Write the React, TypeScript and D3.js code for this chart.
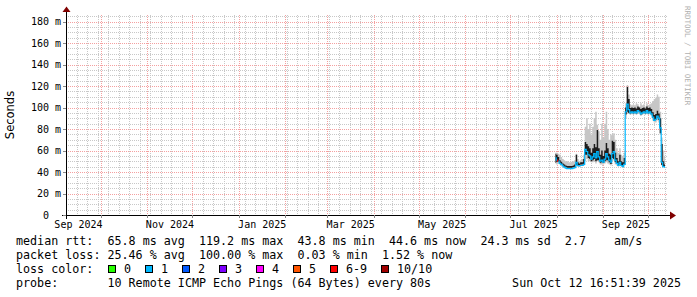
import React from 'react';
import * as d3 from 'd3';

const W = 697;
const H = 297;

// time window of the graph (400 days ending at the graph time)
const graphStart = Date.UTC(2024, 8, 7, 16, 51);
const graphEnd = Date.UTC(2025, 9, 12, 16, 51);
const firstSampleDay = Date.UTC(2025, 6, 31);

// y ticks
const yMajorTicks = [0, 20, 40, 60, 80, 100, 120, 140, 160, 180];

// daily samples, ms
const median = [54, 52, 51, 49, 48, 46.5, 45.5, 44.5, 44, 44, 44, 44, 44.5, 45, 50, 47, 46.5, 47, 47, 48,
  62, 60, 57, 56, 53, 55, 58, 54, 60, 55, 51, 52, 50, 53, 58, 55, 52, 50, 58, 60,
  52, 49, 47, 50, 47, 46, 48, 97, 104, 99, 96, 97, 96, 97, 96, 98, 97, 95, 96, 97,
  96, 98, 96, 97, 95, 92, 89, 90, 93, 91, 82, 50, 46, 45.5];
const smokeLo = [48, 47, 48, 47, 46, 45, 44, 43.5, 43, 43, 43, 43, 43.5, 44, 45, 45, 45, 45.5, 46, 46,
  50, 52, 50, 50, 49, 49, 50, 48, 50, 49, 47, 47, 47, 48, 49, 48, 47, 46, 50, 51,
  47, 46, 45, 46, 45, 44.5, 46, 90, 94, 94, 93, 94, 93, 94, 93, 94, 94, 92, 93, 94,
  93, 94, 93, 94, 92, 88, 86, 86, 88, 86, 75, 46, 45, 45];
const smokeHi = [58, 58, 57, 56, 54, 52, 51, 50, 50, 49, 49, 49.5, 50, 51, 57, 52, 50, 51, 52, 56,
  82, 90, 80, 85, 75, 82, 90, 96, 84, 78, 70, 85, 72, 85, 96, 80, 70, 75, 74, 76,
  70, 62, 58, 62, 56, 55, 58, 104, 121, 112, 103, 102, 103, 102, 104, 103, 101, 104, 102, 103,
  101, 104, 102, 103, 104, 106, 108, 109, 112, 110, 96, 72, 60, 55];
const coreLo = [48.5, 49.5, 49.5, 48.5, 47.5, 46, 45, 44.5, 44, 44, 44, 44, 44.5, 45, 46.5, 46.5, 46.5, 47, 47, 47.5,
  56, 56, 53, 52, 50, 51, 52, 50, 51, 51, 48.5, 49, 48.5, 50, 51, 51, 49, 47.5, 53, 52,
  49, 47.5, 46.5, 47.5, 46.5, 45.5, 46.5, 93.5, 96, 95, 94.5, 95.5, 94.5, 95.5, 94.5, 96.5, 95.5, 93.5, 94.5, 95.5,
  94.5, 96.5, 94.5, 95.5, 93.5, 90.5, 87.5, 88.5, 90.5, 88.5, 76, 46.5, 45.5, 45];
const coreHi = [57, 56, 54, 51, 49.5, 48, 47, 46, 45.5, 45.5, 45.5, 45.5, 46, 47, 56, 49, 48, 49, 49, 52,
  68, 66, 64, 62, 58, 62, 66, 63, 79, 62, 56, 60, 55, 60, 67, 62, 57, 56, 69, 68,
  58, 53, 50, 56, 50, 49, 53, 100, 119, 108, 99.5, 100, 99.5, 100, 99, 101, 100, 98.5, 99.5, 100,
  99, 101, 99.5, 100, 98.5, 95.5, 93, 94, 97, 94.5, 90, 66, 50, 47];
const lossCount = [1, 7, 1, 1, 1, 1, 1, 1, 1, 1, 1, 1, 1, 1, 1, 1, 1, 1, 1, 1,
  1, 1, 1, 1, 1, 1, 1, 1, 1, 1, 1, 1, 1, 1, 1, 1, 1, 1, 1, 1,
  1, 1, 1, 1, 1, 1, 1, 1, 1, 1, 1, 1, 1, 1, 1, 1, 1, 1, 1, 1,
  1, 1, 1, 1, 1, 1, 1, 1, 1, 1, 1, 1, 1, 1];

// legend
const lossLabels = ['0', '1', '2', '3', '4', '5', '6-9', '10/10'];
const lossColors = ['#26ff00', '#00b8ff', '#0059ff', '#7e00ff', '#ff00ff', '#ff5500', '#ff0000', '#a10000'];
const rttLine = 'median rtt:  65.8 ms avg  119.2 ms max  43.8 ms min  44.6 ms now  24.3 ms sd  2.7    am/s';
const lossLine = 'packet loss: 25.46 % avg  100.00 % max  0.03 % min  1.52 % now';
const probeLine = 'probe:       10 Remote ICMP Echo Pings (64 Bytes) every 80s';
const dateLine = 'Sun Oct 12 16:51:39 2025';

const MONO = "'DejaVu Sans Mono', monospace";
const SANS = "'DejaVu Sans', sans-serif";

function lossIndex(n: number) {
  if (n <= 5) return n;
  if (n < 10) return 6;
  return 7;
}

export default function App() {
  const x = d3.scaleUtc().domain([new Date(graphStart), new Date(graphEnd)]).range([66, 666]);
  const y = d3.scaleLinear().domain([0, 186.05]).range([215, 15]);
  const left = 66, right = 666, top = 15, bottom = 215;

  const dates = median.map((_, i) => d3.utcDay.offset(new Date(firstSampleDay), i));
  const idx = median.map((_, i) => i);

  const smokeArea = d3.area<number>()
    .x(i => x(dates[i]))
    .y0(i => y(smokeLo[i]))
    .y1(i => y(smokeHi[i]))
    .curve(d3.curveStep);
  const coreArea = d3.area<number>()
    .x(i => x(dates[i]))
    .y0(i => y(coreLo[i]))
    .y1(i => y(coreHi[i]))
    .curve(d3.curveStep);

  // median segments coloured by loss
  const medLine = d3.line<number>().x(i => x(dates[i])).y(i => y(median[i]) + 1).curve(d3.curveStep);
  const segs: { pts: number[]; c: string }[] = [];
  idx.forEach(i => {
    const c = lossColors[lossIndex(lossCount[i])];
    const last = segs[segs.length - 1];
    if (last && last.c === c) last.pts.push(i);
    else {
      if (last) last.pts.push(i);
      segs.push({ pts: [i], c });
    }
  });

  const minorY = d3.range(0, 186, 5).filter(v => v % 20 !== 0);
  const majorY = yMajorTicks;
  const weeks = d3.utcSunday.range(new Date(graphStart), new Date(graphEnd));
  const months = d3.utcMonth.range(new Date(graphStart), new Date(graphEnd));
  const labelMonths = d3.utcMonth.range(d3.utcMonth.floor(new Date(graphStart)), new Date(graphEnd))
    .filter(m => (m.getUTCMonth() - 8 + 12) % 2 === 0);
  const fmt = d3.utcFormat('%b %Y');

  let lx = 108;
  const legendItems = lossLabels.map((l, i) => {
    const item = { x: lx, l, c: lossColors[i] };
    lx += 30 + 7 * l.length;
    return item;
  });

  return (
    <svg width={W} height={H} style={{ position: 'absolute', left: 0, top: 0, background: '#fff' }}
      xmlns="http://www.w3.org/2000/svg">
      <rect x={0} y={0} width={W} height={H} fill="#ffffff" />
      {/* minor grid */}
      <g stroke="#c8c8c8" strokeWidth={1} strokeDasharray="1,1" shapeRendering="crispEdges">
        {minorY.map(v => <line key={'my' + v} x1={left} x2={right + 2} y1={Math.round(y(v)) + 0.5} y2={Math.round(y(v)) + 0.5} />)}
        {weeks.map(d => <line key={'mx' + d.getTime()} x1={Math.round(x(d)) + 0.5} x2={Math.round(x(d)) + 0.5} y1={top} y2={bottom} />)}
      </g>
      {/* major grid */}
      <g stroke="#f4a0a0" strokeWidth={1} strokeDasharray="1,1" shapeRendering="crispEdges">
        {majorY.filter(v => v > 0).map(v => <line key={'My' + v} x1={left} x2={right + 2} y1={Math.round(y(v)) + 0.5} y2={Math.round(y(v)) + 0.5} />)}
        {months.map(d => <line key={'Mx' + d.getTime()} x1={Math.round(x(d)) + 0.5} x2={Math.round(x(d)) + 0.5} y1={top} y2={bottom} />)}
      </g>
      {/* smoke */}
      <path d={smokeArea(idx) || ''} fill="#c6c6c6" />
      <path d={coreArea(idx) || ''} fill="#1c1c1c" />
      {segs.map((s, k) => (
        <path key={'seg' + k} d={medLine(s.pts) || ''} fill="none" stroke={s.c} strokeWidth={1.2} />
      ))}
      {/* axes */}
      <g shapeRendering="crispEdges">
        <line x1={62} x2={671} y1={215.5} y2={215.5} stroke="#000" />
        <line x1={66.5} x2={66.5} y1={219} y2={11} stroke="#000" />
        {majorY.map(v => <line key={'yt' + v} x1={63} x2={66} y1={Math.round(y(v)) + 0.5} y2={Math.round(y(v)) + 0.5} stroke="#888" />)}
        {months.map(d => <line key={'xt' + d.getTime()} x1={Math.round(x(d)) + 0.5} x2={Math.round(x(d)) + 0.5} y1={215} y2={218} stroke="#888" />)}
      </g>
      <path d="M62.5,12 L66.5,6.5 L70.5,12 Z" fill="#800000" />
      <path d="M670,211.5 L676,215.5 L670,219.5 Z" fill="#800000" />
      {/* axis labels */}
      <g fontFamily={MONO} fontSize={10} fill="#000">
        {majorY.map(v => (
          <text key={'yl' + v} x={61} y={y(v) + 3.5} textAnchor="end" xmlSpace="preserve" style={{ whiteSpace: 'pre' }}>
            {v === 0 ? '  0  ' : `${String(v).padStart(3, ' ')} m`}
          </text>
        ))}
        {labelMonths.map(m => {
          const cx = (x(m) + x(d3.utcMonth.offset(m, 1))) / 2;
          return <text key={'xl' + m.getTime()} x={cx} y={228} textAnchor="middle">{fmt(m)}</text>;
        })}
      </g>
      <text transform="translate(14,115) rotate(-90)" textAnchor="middle" fontFamily={SANS} fontSize={11.5} fill="#000">Seconds</text>
      <text transform="translate(685,6) rotate(90)" fontFamily={MONO} fontSize={7.5} fill="#b0b0b0">RRDTOOL / TOBI OETIKER</text>
      {/* legend */}
      <g fontFamily={MONO} fontSize={11.7} fill="#000" style={{ whiteSpace: 'pre' }}>
        <text x={16} y={245} xmlSpace="preserve">{rttLine}</text>
        <text x={16} y={259} xmlSpace="preserve">{lossLine}</text>
        <text x={16} y={272.7} xmlSpace="preserve">loss color:</text>
        {legendItems.map(it => (
          <g key={'lg' + it.l}>
            <rect x={it.x + 0.5} y={265.5} width={7} height={7} fill={it.c} stroke="#000" strokeWidth={1} shapeRendering="crispEdges" />
            <text x={it.x + 16} y={272.7}>{it.l}</text>
          </g>
        ))}
        <text x={16} y={286.7} xmlSpace="preserve">{probeLine}</text>
        <text x={681} y={286.7} textAnchor="end">{dateLine}</text>
      </g>
    </svg>
  );
}
